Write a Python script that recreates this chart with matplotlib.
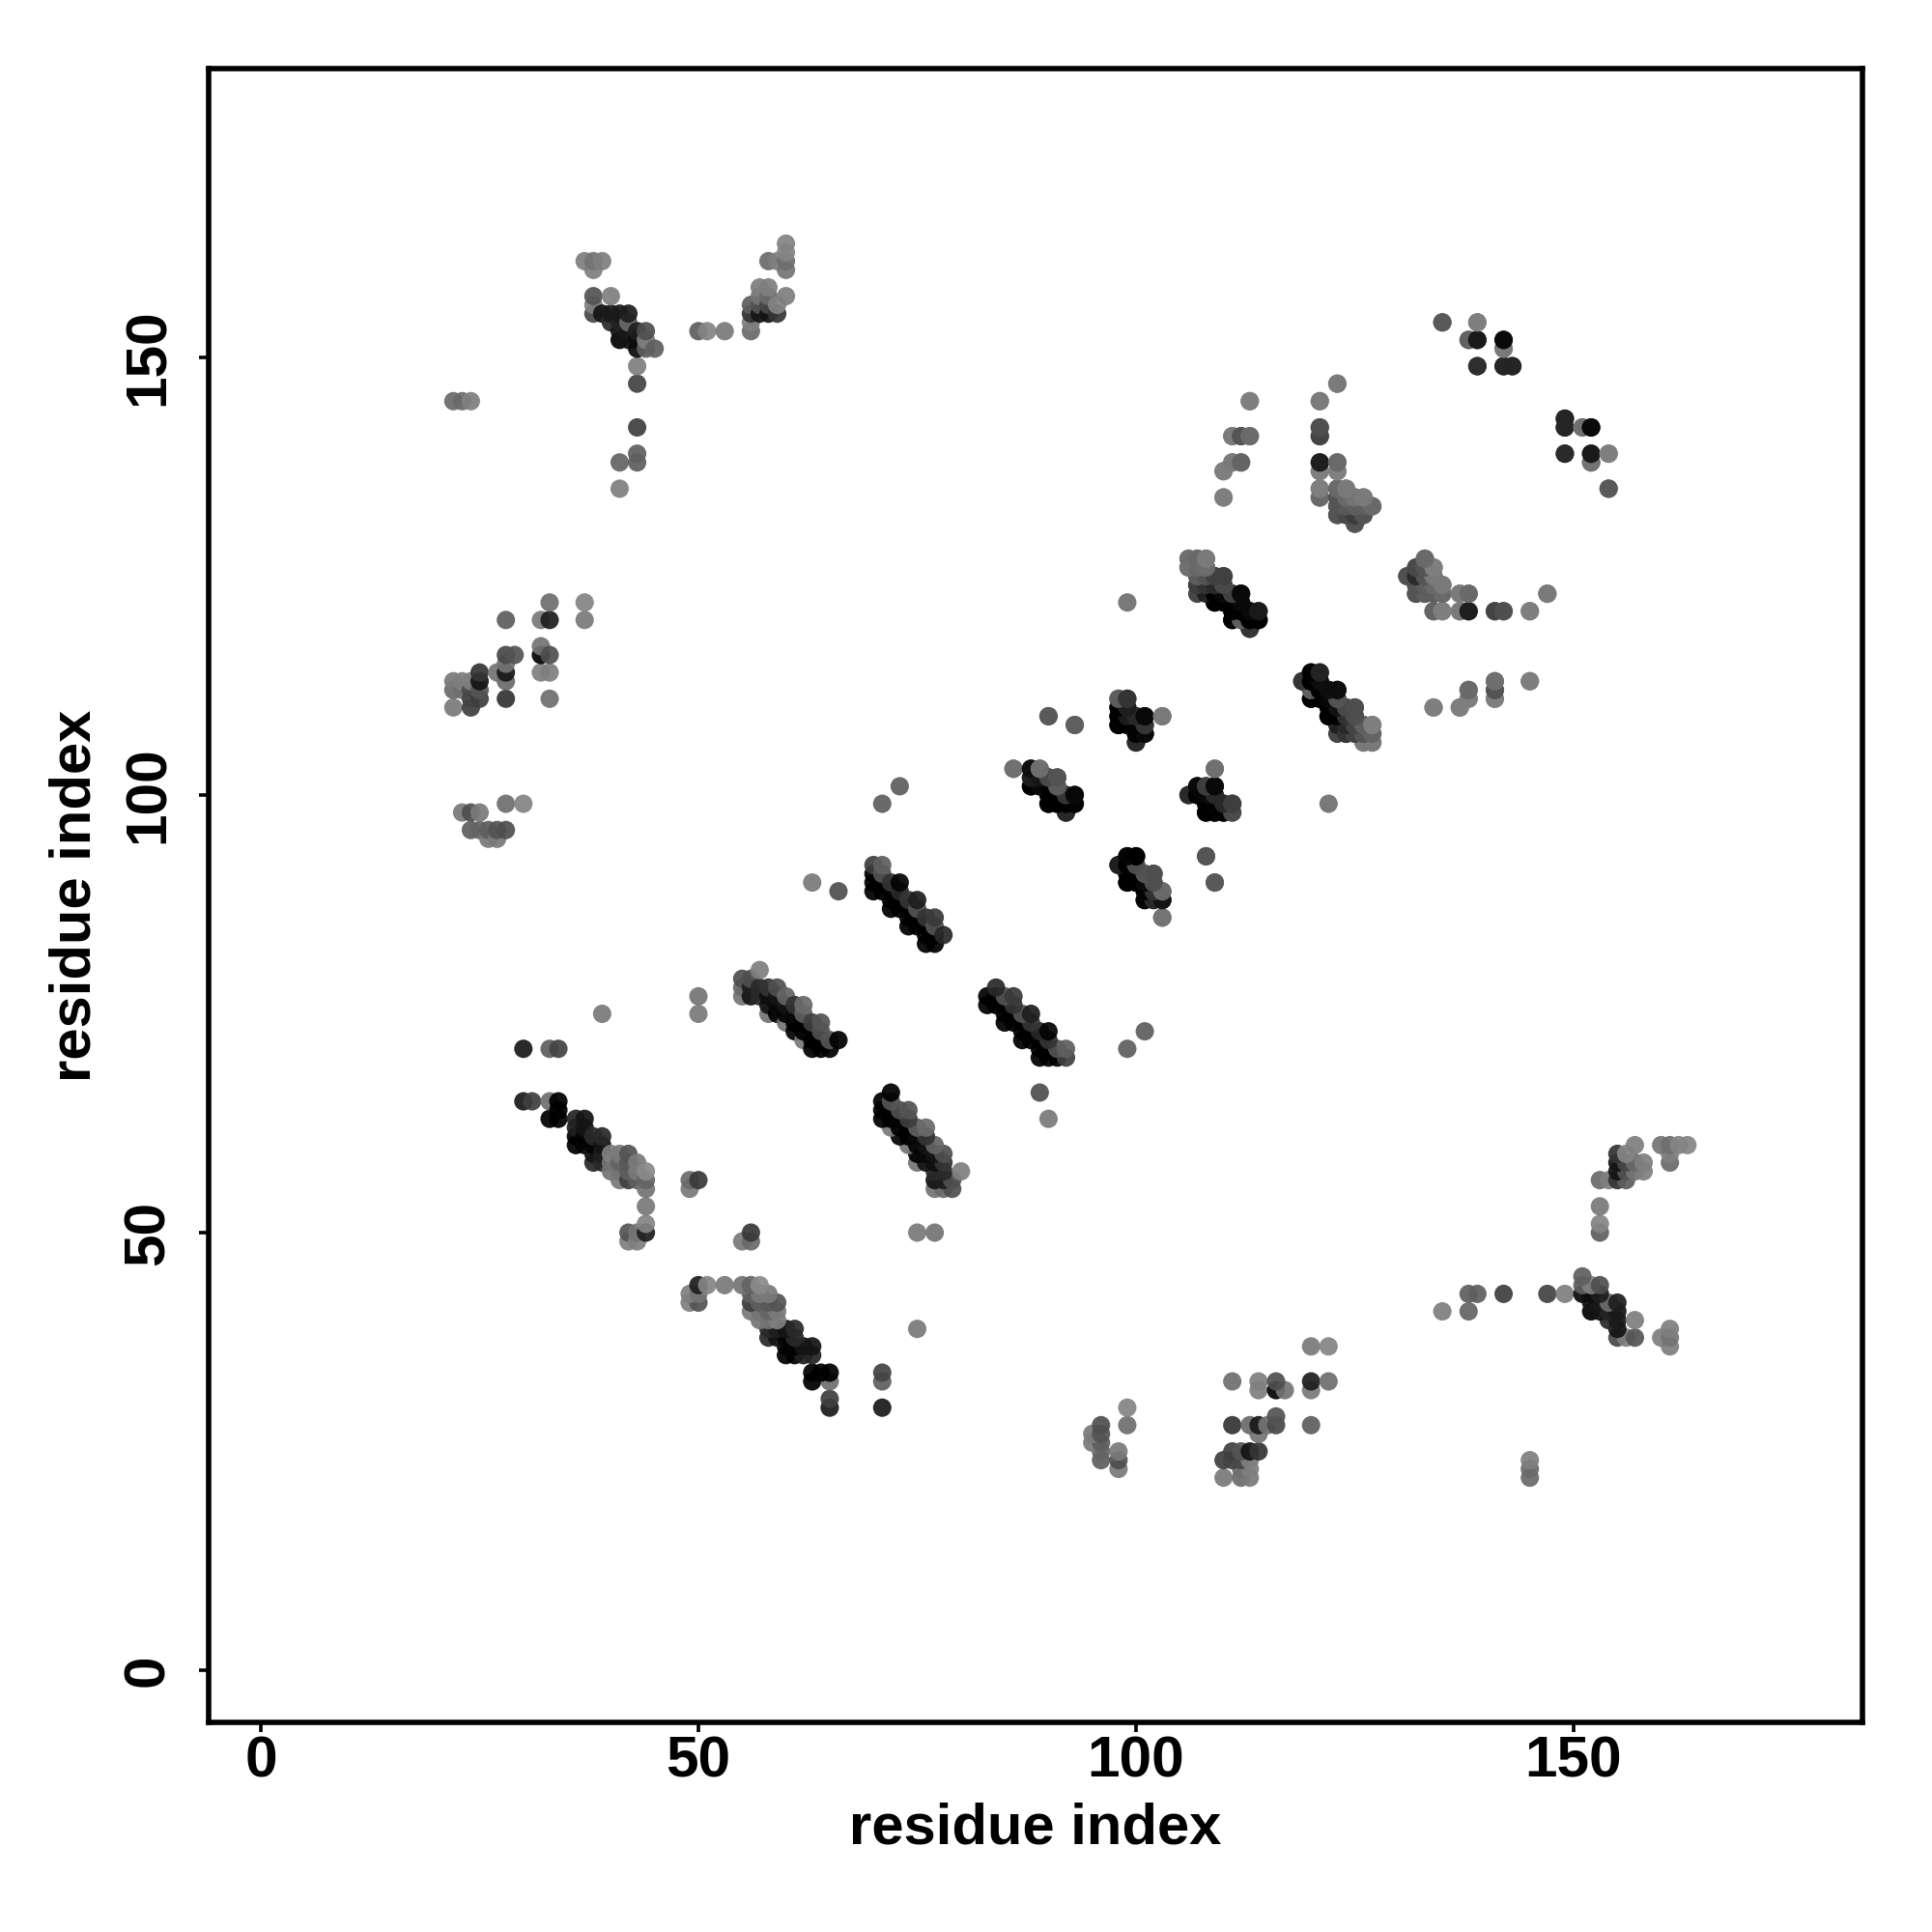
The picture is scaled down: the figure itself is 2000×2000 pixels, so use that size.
import numpy as np
import matplotlib
matplotlib.use("Agg")
import matplotlib.pyplot as plt

# contact map is symmetric, so only the i < j half is listed: (i, j, grey level)
corner_top_left = [(22,145,110),(23,145,110),(24,145,130),
    (37,161,130),(38,161,120),(39,161,130),(38,160,130),(38,157,90),(40,157,130),(38,156,130),(38,155,80),
    (39,155,30),(40,155,35),(41,155,35),(42,155,40),(40,154,50),(41,154,45),(42,154,110),
    (41,153,30),(42,153,35),(43,153,40),(44,153,85),(41,152,15),(42,152,30),(43,152,25),(44,152,130),
    (43,151,20),(44,151,100),(45,151,100),(43,149,130),(43,147,75),(43,142,70),(43,139,100),(43,138,100),
    (41,138,105),(41,135,130)]
corner_top_mid = [(60,163,135),(60,162,135),(58,161,110),(59,161,130),(60,161,115),(60,160,120),
    (57,158,130),(58,158,130),(57,157,120),(58,157,110),(60,157,130),(59,156,135),(56,156,100),(57,156,90),(58,156,80),
    (56,155,60),(57,155,30),(58,155,30),(59,155,60),(56,154,130),(56,153,110),(50,153,100),(51,153,135),(53,153,125)]
left_block = [(33,122,115),(37,122,135),(28,120,100),(32,120,125),(33,120,40),(37,120,125),
    (32,117,120),(28,116,80),(29,116,90),(32,116,15),(33,116,85),(27,114,120),(28,115,120),(28,114,35),
    (32,114,130),(33,114,130),(25,114,60),(25,113,30),(22,113,125),(23,113,130),(24,113,130),(28,113,110),
    (22,112,110),(23,112,115),(24,112,80),(25,112,90),(25,111,70),(24,111,75),(28,111,60),(33,111,115),
    (22,110,125),(24,110,70),(28,99,115),(30,99,135),(23,98,125),(24,98,85),(25,98,125),
    (24,96,100),(25,96,105),(26,96,100),(27,96,90),(28,96,85),(26,95,125),(27,95,125)]
upper_mid = [(113,145,130),(111,141,130),(112,141,90),(113,141,115),(111,138,130),(112,138,110),(110,137,130),(110,134,130),
    (123,147,125),(121,145,130),(121,142,85),(121,141,75),(121,138,40),(123,138,110),(121,137,125),(123,137,125),
    (121,135,130),(121,134,105),(123,135,110),(124,135,125),(125,134,125),(126,134,130),(127,133,110),(123,134,100),
    (124,134,110),(123,133,100),(124,133,100),(125,133,90),(126,133,90),(126,132,80),(123,132,90),(124,132,90),(125,132,50),(125,131,85)]
upper_right = [(135,154,95),(139,154,130),(138,152,120),(139,152,35),(142,152,20),(142,151,115),(139,149,50),(142,149,45),(143,149,45),
    (149,143,45),(149,142,45),(151,142,125),(152,142,20),(149,139,55),(152,139,35),(154,139,130),(152,138,100),(154,135,95)]
band_106_127 = [(106,127,125),(107,127,105),(108,127,130),(106,126,125),(107,126,90),(108,126,100),
    (107,125,70),(108,125,75),(109,125,85),(110,125,85),(107,124,60),(108,124,50),(109,124,60),(110,124,80),
    (109,123,15),(110,123,30),(111,123,90),(112,123,25),(109,122,10),(110,122,10),(111,122,20),(112,122,25),
    (111,121,10),(112,121,15),(113,121,25),(114,121,45),(111,120,10),(112,120,100),(113,120,10),(114,120,10),(113,119,60)]
cluster_131_147 = [(133,127,110),(134,126,125),(132,126,90),(133,126,100),(131,125,90),(132,125,70),(133,125,100),(134,125,120),
    (132,124,80),(133,124,95),(134,124,110),(135,124,125),(132,123,90),(133,123,90),(134,123,90),(135,123,110),(137,123,130),(138,123,110),
    (134,121,110),(135,121,130),(137,121,130),(138,121,40),(141,121,75),(142,121,85),(145,121,125),(147,123,125),
    (134,110,130),(137,110,130),(138,111,125),(138,112,105),(141,113,110),(141,112,90),(141,111,125),(145,113,130)]
band_119_127 = [(119,113,60),(120,114,5),(121,114,35),(120,113,10),(121,113,20),(120,112,100),(121,112,10),(122,112,20),(123,112,20),
    (120,111,10),(121,111,10),(122,111,10),(123,111,70),(122,110,10),(123,110,20),(124,110,80),(125,110,70),
    (122,109,5),(123,109,5),(124,109,50),(125,109,70),(123,108,40),(124,108,60),(123,107,65),(124,107,70),(125,108,90),(125,107,100),
    (126,108,115),(127,108,125),(126,107,110),(127,107,110),(126,106,115),(127,106,115)]
block_98_111 = [(98,111,80),(99,111,70),(98,110,15),(99,110,50),(100,109,50),(101,109,20),(103,109,115),(98,109,10),(99,109,10),
    (98,108,10),(99,108,10),(100,108,20),(101,108,70),(100,107,15),(101,107,20),(100,106,50),(90,109,95),(93,108,90)]
block_88_103 = [(86,103,120),(88,103,30),(89,103,110),(88,102,50),(89,102,60),(90,102,85),(91,102,85),
    (88,101,15),(89,101,15),(90,101,20),(91,101,90),(90,100,10),(91,100,10),(92,100,85),(93,100,10),
    (90,99,5),(91,99,5),(92,99,15),(93,99,15),(92,98,40)]
block_106_111 = [(109,103,125),(107,101,20),(108,101,60),(109,101,20),(106,100,50),(107,100,15),(108,100,15),(109,100,50),
    (108,99,10),(109,99,40),(110,99,40),(111,99,60),(108,98,5),(109,98,5),(110,98,10),(111,98,100),(99,122,115)]
block_98_103 = [(99,93,15),(100,93,20),(98,92,50),(99,92,10),(100,92,60),(101,91,100),(102,91,90),(99,91,5),(100,91,5),
    (99,90,5),(100,90,5),(101,90,10),(102,90,80),(101,89,20),(102,89,30),(103,89,115),(101,88,10),(102,88,40),(103,88,25),
    (103,86,115),(108,93,100),(109,90,95)]
band_70_78 = [(70,92,70),(71,92,100),(70,91,10),(71,91,90),(73,90,15),(72,90,60),(70,90,5),(71,90,5),
    (70,89,5),(71,89,5),(72,89,5),(73,89,50),(72,88,5),(73,88,5),(74,88,60),(75,88,40),
    (72,87,5),(73,87,5),(74,87,10),(75,87,90),(76,86,60),(77,86,65),(74,86,5),(75,86,5),
    (74,85,5),(75,85,5),(76,85,10),(77,85,90),(78,84,50),(76,84,5),(77,84,10),(76,83,5),(77,83,5),
    (63,90,125),(66,89,85),(71,99,100),(73,101,100)]
band_55_66 = [(57,80,130),(55,79,85),(56,79,85),(55,78,110),(56,78,40),(57,78,50),(58,78,60),(59,78,85),
    (55,77,120),(56,77,30),(57,77,50),(58,77,25),(59,77,30),(60,77,105),
    (58,76,30),(59,76,20),(60,76,30),(61,76,60),(62,76,110),(58,75,120),(59,75,10),(60,75,15),(61,75,20),(62,75,100),
    (60,74,120),(61,74,10),(62,74,10),(63,74,70),(64,74,90),(61,73,15),(62,73,10),(63,73,15),(64,73,85),
    (62,72,125),(63,72,10),(64,72,10),(65,72,90),(66,72,5),(63,71,5),(64,71,5),(65,71,5)]
band_30_44 = [(30,71,35),(33,71,100),(34,71,75),(30,65,35),(31,65,70),(33,65,115),(34,65,5),(33,63,5),(34,63,5),(34,64,5),
    (36,63,45),(37,63,30),(36,62,40),(37,62,30),(36,61,10),(37,61,15),(38,61,50),(39,61,50),(36,60,10),(37,60,15),(38,60,15),(39,60,30),
    (38,59,30),(39,59,40),(40,59,130),(41,59,125),(42,59,90),(38,58,50),(39,58,50),(40,58,120),(41,58,105),(42,58,95),(43,58,125),
    (40,57,120),(41,57,120),(42,57,100),(43,57,125),(44,57,140),(41,56,125),(42,56,70),(43,56,100),(44,56,105),
    (44,55,120),(44,53,125),(44,51,135),(42,50,90),(43,50,120),(44,50,40),(42,49,130),(43,49,130),
    (49,56,110),(50,56,65),(49,55,125),(50,75,125),(50,77,120),(39,75,125)]

all_clusters = [corner_top_left, corner_top_mid, left_block, upper_mid, upper_right, band_106_127, cluster_131_147,
                band_119_127, block_98_111, block_88_103, block_106_111, block_98_103, band_70_78, band_55_66, band_30_44]
tick_vals = [0, 50, 100, 150]
axis_label = "residue index"

pts = np.array([p for c in all_clusters for p in c], dtype=float)
x = np.concatenate([pts[:, 0], pts[:, 1]])
y = np.concatenate([pts[:, 1], pts[:, 0]])
grey = np.concatenate([pts[:, 2], pts[:, 2]])

# points further up the i+j direction sit on top in the reference
order = np.argsort(x + y, kind="stable")
x, y, grey = x[order], y[order], grey[order]

# slightly see-through, pick the colour so a lone dot still shows its grey level
alpha = 0.93
level = np.clip((grey + 6 - 255 * (1 - alpha)) / alpha, 0, 255) / 255
colors = np.column_stack([level, level, level, np.full(len(level), alpha)])

plt.rcParams['font.family'] = ['Liberation Sans', 'DejaVu Sans']
plt.rcParams['font.weight'] = 'bold'

fig = plt.figure(figsize=(20, 20), dpi=100)
ax = fig.add_axes([216 / 2000, 217 / 2000, 1712 / 2000, 1712 / 2000])
ax.scatter(x, y, s=188, c=colors, linewidths=0, zorder=3)

ax.set_xlim(-5.96, 183)
ax.set_ylim(-5.96, 183)
ax.set_xticks(tick_vals)
ax.set_yticks(tick_vals)
ax.tick_params(axis='both', length=7, width=2.6, labelsize=43.5)
ax.tick_params(axis='x', pad=3)
ax.tick_params(axis='y', pad=18)
for lab in ax.get_yticklabels():
    lab.set_rotation(90)
    lab.set_va('center')
for s in ax.spines.values():
    s.set_linewidth(4)

ax.set_xlabel(axis_label, fontsize=43, fontweight='bold', labelpad=10)
ax.set_ylabel(axis_label, fontsize=43, fontweight='bold', labelpad=15)

fig.savefig("out.png", dpi=100, facecolor='white')
